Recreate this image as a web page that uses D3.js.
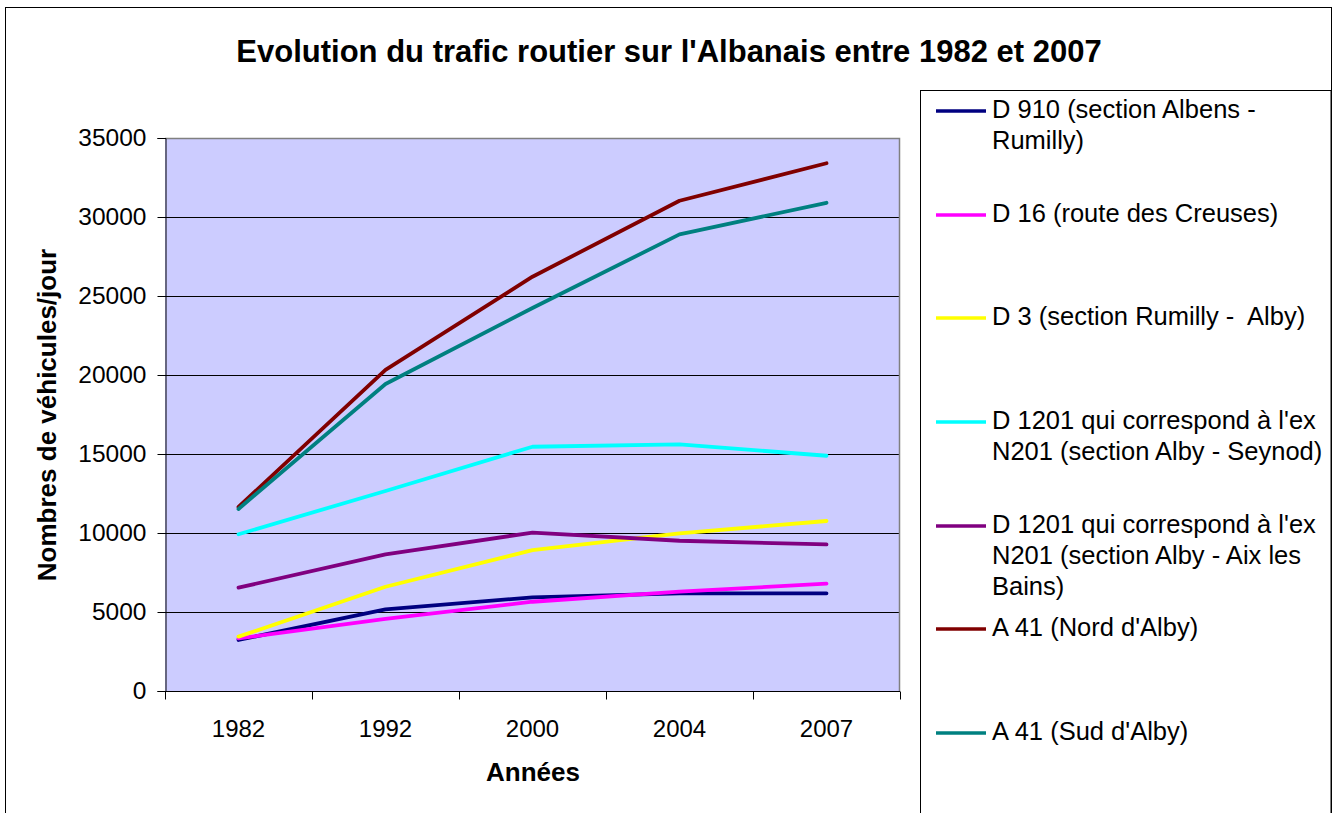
<!DOCTYPE html>
<html>
<head>
<meta charset="utf-8">
<script src="https://cdn.jsdelivr.net/npm/d3@7/dist/d3.min.js"></script>
<style>
  html, body { margin: 0; padding: 0; background: #fff; }
  svg { display: block; font-family: "Liberation Sans", Arial, sans-serif; }
</style>
</head>
<body>
<svg id="chart" width="1336" height="813"></svg>
<script>
// ---- Data ----
const years = ["1982", "1992", "2000", "2004", "2007"];
const yTicks = [0, 5000, 10000, 15000, 20000, 25000, 30000, 35000];

const d910   = [3230, 5170, 5930, 6180, 6180];
const d16    = [3330, 4560, 5650, 6290, 6790];
const d3v    = [3440, 6600, 8920, 9980, 10760];
const d1201S = [9920, 12660, 15460, 15610, 14890];
const d1201A = [6540, 8650, 10020, 9510, 9280];
const a41N   = [11650, 20320, 26220, 31030, 33400];
const a41S   = [11520, 19430, 24240, 28900, 30900];

const seriesNames = [
  ["D 910 (section Albens -", "Rumilly)"],
  ["D 16 (route des Creuses)"],
  ["D 3 (section Rumilly -  Alby)"],
  ["D 1201 qui correspond à l'ex", "N201 (section Alby - Seynod)"],
  ["D 1201 qui correspond à l'ex", "N201 (section Alby - Aix les", "Bains)"],
  ["A 41 (Nord d'Alby)"],
  ["A 41 (Sud d'Alby)"]
];
const seriesColors = ["#000080", "#FF00FF", "#FFFF00", "#00FFFF", "#800080", "#800000", "#008080"];
const seriesValues = [d910, d16, d3v, d1201S, d1201A, a41N, a41S];

const series = seriesNames.map((n, i) => ({ name: n, color: seriesColors[i], values: seriesValues[i] }));

// ---- Layout ----
const svg = d3.select("#chart");
const plot = { left: 165, right: 900, top: 138, bottom: 691 };

// outer frame
svg.append("rect").attr("x", 5.5).attr("y", 7.5).attr("width", 1326).attr("height", 820)
  .attr("fill", "#fff").attr("stroke", "#000").attr("stroke-width", 1);

// title
svg.append("text").attr("x", 669).attr("y", 62).attr("text-anchor", "middle")
  .attr("font-size", 31).attr("font-weight", "bold").attr("fill", "#000")
  .text("Evolution du trafic routier sur l'Albanais entre 1982 et 2007");

const x = d3.scaleBand().domain(years).range([plot.left, plot.right]).padding(0);
const y = d3.scaleLinear().domain([0, 35000]).range([plot.bottom, plot.top]);

// plot background
svg.append("rect").attr("x", plot.left).attr("y", plot.top)
  .attr("width", plot.right - plot.left).attr("height", plot.bottom - plot.top)
  .attr("fill", "#CCCCFF");

// gridlines
svg.append("g").selectAll("line").data(yTicks.filter(t => t > 0 && t < 35000)).join("line")
  .attr("x1", plot.left).attr("x2", plot.right)
  .attr("y1", d => Math.round(y(d)) + 0.5).attr("y2", d => Math.round(y(d)) + 0.5)
  .attr("stroke", "#000").attr("stroke-width", 1);

// plot border (top/right gray)
svg.append("path")
  .attr("d", `M${plot.left},${plot.top + 0.5}H${plot.right - 0.5}V${plot.bottom}`)
  .attr("fill", "none").attr("stroke", "#808080").attr("stroke-width", 1.5);

// y axis
const yAxis = d3.axisLeft(y).tickValues(yTicks).tickSize(8).tickPadding(11).tickFormat(d3.format("d"));
const gy = svg.append("g").attr("transform", `translate(${plot.left + 0.5},0)`).call(yAxis);
gy.select(".domain").attr("stroke", "#000");
gy.selectAll(".tick line").attr("stroke", "#000");
gy.selectAll("text").attr("font-size", 24.5).attr("font-family", "'Liberation Sans', Arial, sans-serif").attr("fill", "#000");

// x axis (ticks at band boundaries)
const gx = svg.append("g").attr("transform", `translate(0,${plot.bottom + 0.5})`);
gx.append("line").attr("x1", plot.left).attr("x2", plot.right).attr("stroke", "#000");
const boundaries = years.map(d => x(d)).concat([plot.right]);
gx.selectAll("line.tk").data(boundaries).join("line").attr("class", "tk")
  .attr("x1", d => Math.round(d) + 0.5).attr("x2", d => Math.round(d) + 0.5)
  .attr("y1", 0).attr("y2", 8).attr("stroke", "#000");
gx.selectAll("text").data(years).join("text")
  .attr("x", d => x(d) + x.bandwidth() / 2).attr("y", 45)
  .attr("text-anchor", "middle").attr("font-size", 24).attr("fill", "#000")
  .text(d => d);

// axis titles
svg.append("text").attr("x", 533).attr("y", 781).attr("text-anchor", "middle")
  .attr("font-size", 26).attr("font-weight", "bold").text("Années");
svg.append("text").attr("transform", "translate(56,415) rotate(-90)").attr("text-anchor", "middle")
  .attr("font-size", 26).attr("font-weight", "bold").text("Nombres de véhicules/jour");

// lines
const line = d3.line().x((d, i) => x(years[i]) + x.bandwidth() / 2).y(d => y(d));
svg.append("g").selectAll("path").data(series).join("path")
  .attr("d", d => line(d.values))
  .attr("fill", "none").attr("stroke", d => d.color).attr("stroke-width", 3.8)
  .attr("stroke-linejoin", "round").attr("stroke-linecap", "round");

// legend
svg.append("rect").attr("x", 920.5).attr("y", 90.5).attr("width", 410.5).attr("height", 760)
  .attr("fill", "#fff").attr("stroke", "#000").attr("stroke-width", 1);
const baselines = [118, 222, 325, 429, 533, 636, 740];
const lg = svg.append("g").selectAll("g").data(series).join("g")
  .attr("transform", (d, i) => `translate(0,${baselines[i]})`);
lg.append("line").attr("x1", 936).attr("x2", 986).attr("y1", -7).attr("y2", -7)
  .attr("stroke", d => d.color).attr("stroke-width", 3.5);
lg.append("text").attr("x", 992).attr("font-size", 25.5).attr("fill", "#000")
  .style("white-space", "pre")
  .selectAll("tspan").data(d => d.name).join("tspan")
  .attr("x", 992).attr("dy", (d, i) => i === 0 ? 0 : 31).text(d => d);
</script>
</body>
</html>
